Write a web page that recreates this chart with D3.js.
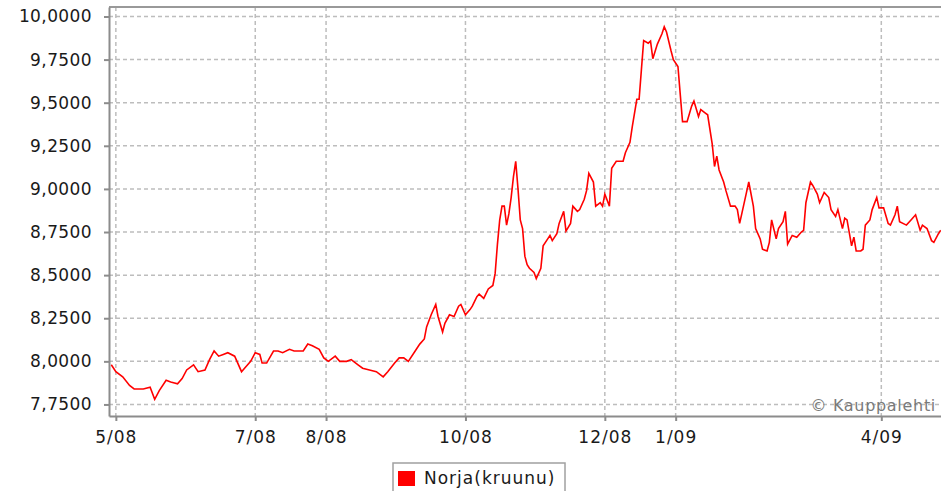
<!DOCTYPE html>
<html>
<head>
<meta charset="utf-8">
<script src="https://cdn.jsdelivr.net/npm/d3@7"></script>
<style>
    body { margin: 0; background: #fff; }
    #chart { width: 941px; height: 491px; }
    text { font-family: "DejaVu Sans", sans-serif; }
</style>
</head>
<body>
<div id="chart"></div>
<script>

// NOK rate
let dates = [
    '2008-04-29','2008-05-01','2008-05-04','2008-05-07','2008-05-09','2008-05-13','2008-05-16','2008-05-18',
    '2008-05-20','2008-05-23','2008-05-25','2008-05-28','2008-05-30','2008-06-01','2008-06-04','2008-06-06',
    '2008-06-09','2008-06-11','2008-06-13','2008-06-15','2008-06-17','2008-06-19','2008-06-22','2008-06-25',
    '2008-06-27','2008-06-29','2008-07-01','2008-07-03','2008-07-04','2008-07-06','2008-07-09','2008-07-11',
    '2008-07-13','2008-07-16','2008-07-18','2008-07-22','2008-07-24','2008-07-26','2008-07-29','2008-07-31',
    '2008-08-02','2008-08-05','2008-08-07','2008-08-10','2008-08-12','2008-08-15','2008-08-17','2008-08-20',
    '2008-08-23','2008-08-26','2008-08-28','2008-08-31','2008-09-02','2008-09-04','2008-09-06','2008-09-09',
    '2008-09-11','2008-09-13','2008-09-14','2008-09-16','2008-09-18','2008-09-19','2008-09-21','2008-09-22',
    '2008-09-24','2008-09-26','2008-09-28','2008-09-29','2008-10-01','2008-10-03','2008-10-04','2008-10-06',
    '2008-10-07','2008-10-09','2008-10-11','2008-10-13','2008-10-14','2008-10-15','2008-10-16','2008-10-17',
    '2008-10-18','2008-10-19','2008-10-20','2008-10-21','2008-10-22','2008-10-23','2008-10-24','2008-10-25',
    '2008-10-26','2008-10-27','2008-10-28','2008-10-29','2008-10-31','2008-11-01','2008-11-03','2008-11-04',
    '2008-11-06','2008-11-07','2008-11-08','2008-11-10','2008-11-11','2008-11-13','2008-11-14','2008-11-16',
    '2008-11-17','2008-11-19','2008-11-20','2008-11-22','2008-11-23','2008-11-24','2008-11-26','2008-11-27',
    '2008-11-29','2008-11-30','2008-12-01','2008-12-03','2008-12-04','2008-12-06','2008-12-08','2008-12-09',
    '2008-12-10','2008-12-12','2008-12-13','2008-12-15','2008-12-16','2008-12-17','2008-12-18','2008-12-20',
    '2008-12-21','2008-12-22','2008-12-24','2008-12-26','2008-12-27','2008-12-28','2008-12-30','2008-12-31',
    '2009-01-02','2009-01-03','2009-01-04','2009-01-06','2009-01-08','2009-01-09','2009-01-11','2009-01-12',
    '2009-01-14','2009-01-15','2009-01-17','2009-01-18','2009-01-19','2009-01-20','2009-01-22','2009-01-23',
    '2009-01-25','2009-01-27','2009-01-28','2009-01-29','2009-01-30','2009-02-01','2009-02-02','2009-02-04',
    '2009-02-05','2009-02-07','2009-02-08','2009-02-10','2009-02-11','2009-02-12','2009-02-14','2009-02-15',
    '2009-02-17','2009-02-18','2009-02-19','2009-02-21','2009-02-23','2009-02-25','2009-02-26','2009-02-27',
    '2009-03-01','2009-03-02','2009-03-04','2009-03-05','2009-03-07','2009-03-09','2009-03-10','2009-03-12',
    '2009-03-13','2009-03-15','2009-03-16','2009-03-17','2009-03-19','2009-03-20','2009-03-21','2009-03-23',
    '2009-03-24','2009-03-25','2009-03-27','2009-03-28','2009-03-30','2009-03-31','2009-04-02','2009-04-04',
    '2009-04-05','2009-04-07','2009-04-08','2009-04-09','2009-04-12','2009-04-14','2009-04-16','2009-04-18',
    '2009-04-19','2009-04-21','2009-04-23','2009-04-24','2009-04-26','2009-04-27'
];

let rates = [
    7.98, 7.94, 7.91, 7.86, 7.84, 7.84, 7.85, 7.78,
    7.83, 7.89, 7.88, 7.87, 7.90, 7.95, 7.98, 7.94,
    7.95, 8.01, 8.06, 8.03, 8.04, 8.05, 8.03, 7.94,
    7.97, 8.00, 8.05, 8.04, 7.99, 7.99, 8.06, 8.06,
    8.05, 8.07, 8.06, 8.06, 8.10, 8.09, 8.07, 8.02,
    8.00, 8.03, 8.00, 8.00, 8.01, 7.98, 7.96, 7.95,
    7.94, 7.91, 7.94, 7.99, 8.02, 8.02, 8.00, 8.06,
    8.10, 8.13, 8.20, 8.27, 8.33, 8.26, 8.17, 8.22,
    8.27, 8.26, 8.32, 8.33, 8.27, 8.30, 8.32, 8.375,
    8.39, 8.365, 8.42, 8.44, 8.51, 8.68, 8.82, 8.90,
    8.90, 8.79, 8.855, 8.95, 9.07, 9.16, 9.00, 8.82,
    8.77, 8.61, 8.56, 8.54, 8.515, 8.48, 8.54, 8.67,
    8.71, 8.73, 8.70, 8.74, 8.80, 8.87, 8.755, 8.80,
    8.90, 8.87, 8.88, 8.94, 8.99, 9.09, 9.04, 8.90,
    8.92, 8.90, 8.97, 8.90, 9.12, 9.16, 9.16, 9.16,
    9.21, 9.27, 9.36, 9.52, 9.52, 9.69, 9.86, 9.845,
    9.857, 9.755, 9.84, 9.90, 9.94, 9.91, 9.80, 9.75,
    9.71, 9.55, 9.39, 9.39, 9.48, 9.51, 9.42, 9.46,
    9.44, 9.43, 9.26, 9.13, 9.19, 9.11, 9.04, 8.99,
    8.90, 8.90, 8.88, 8.80, 8.86, 8.98, 9.04, 8.90,
    8.77, 8.71, 8.65, 8.64, 8.69, 8.82, 8.71, 8.77,
    8.81, 8.87, 8.68, 8.73, 8.72, 8.75, 8.76, 8.92,
    9.04, 9.02, 8.97, 8.92, 8.98, 8.95, 8.88, 8.84,
    8.88, 8.77, 8.83, 8.82, 8.67, 8.72, 8.64, 8.64,
    8.65, 8.79, 8.82, 8.88, 8.95, 8.89, 8.89, 8.80,
    8.79, 8.85, 8.90, 8.81, 8.79, 8.82, 8.85, 8.76,
    8.79, 8.77, 8.70, 8.69, 8.74, 8.76
];

let xTickDates = ['2008-05-01', '2008-07-01', '2008-08-01', '2008-10-01', '2008-12-01', '2009-01-01', '2009-04-01'];
let xTickLabels = ['5/08', '7/08', '8/08', '10/08', '12/08', '1/09', '4/09'];
let yTicks = [7.75, 8.0, 8.25, 8.5, 8.75, 9.0, 9.25, 9.5, 9.75, 10.0];
let seriesName = 'Norja(kruunu)';


class RateChart {

    constructor(parentElement) {
        this.parentElement = parentElement;
        this.parseDate = d3.timeParse('%Y-%m-%d');
        this.initVis();
    }

    initVis() {
        let vis = this;

        vis.width = 941;
        vis.height = 491;
        vis.plot = {left: 109, right: 943, top: 7, bottom: 416};

        vis.svg = d3.select('#' + vis.parentElement).append('svg')
            .attr('width', vis.width)
            .attr('height', vis.height);

        vis.x = d3.scaleTime()
            .domain([vis.parseDate('2008-04-28'), vis.parseDate('2009-04-28')])
            .range([vis.plot.left, vis.plot.right]);

        vis.y = d3.scaleLinear()
            .domain([7.683, 10.055])
            .range([vis.plot.bottom, vis.plot.top]);

        vis.wrangleData();
    }

    wrangleData() {
        let vis = this;
        vis.data = dates.map((d, i) => ({date: vis.parseDate(d), value: rates[i]}));
        vis.xTicks = xTickDates.map(d => vis.parseDate(d));
        vis.updateVis();
    }

    updateVis() {
        let vis = this;

        // grid
        vis.svg.append('g').attr('class', 'grid')
            .selectAll('line.h').data(yTicks).enter().append('line')
            .attr('x1', vis.plot.left).attr('x2', vis.width)
            .attr('y1', d => vis.y(d)).attr('y2', d => vis.y(d))
            .attr('stroke', '#bdbdbd').attr('stroke-width', 1.5)
            .attr('stroke-dasharray', '4,3');

        vis.svg.append('g').attr('class', 'grid')
            .selectAll('line.v').data(vis.xTicks).enter().append('line')
            .attr('x1', d => vis.x(d)).attr('x2', d => vis.x(d))
            .attr('y1', vis.plot.top).attr('y2', vis.plot.bottom)
            .attr('stroke', '#bdbdbd').attr('stroke-width', 1.5)
            .attr('stroke-dasharray', '4,3');

        // copyright
        vis.svg.append('text')
            .attr('x', 936).attr('y', 411)
            .attr('text-anchor', 'end')
            .attr('fill', '#7a7a7a')
            .style('font-size', '16px')
            .style('letter-spacing', '0.7px')
            .text('\u00a9 Kauppalehti');

        // line
        vis.svg.append('clipPath').attr('id', 'plotClip')
            .append('rect')
            .attr('x', vis.plot.left).attr('y', vis.plot.top)
            .attr('width', vis.width - vis.plot.left)
            .attr('height', vis.plot.bottom - vis.plot.top);

        vis.svg.append('path')
            .datum(vis.data)
            .attr('clip-path', 'url(#plotClip)')
            .attr('fill', 'none')
            .attr('stroke', '#ff0000')
            .attr('stroke-width', 1.6)
            .attr('stroke-linejoin', 'miter')
            .attr('d', d3.line().x(d => vis.x(d.date)).y(d => vis.y(d.value)));

        // top border
        vis.svg.append('line')
            .attr('x1', vis.plot.left).attr('x2', vis.width)
            .attr('y1', vis.plot.top).attr('y2', vis.plot.top)
            .attr('stroke', '#999').attr('stroke-width', 2);

        // axes
        let fmt = d3.format('.4f');

        let yAxis = d3.axisLeft(vis.y)
            .tickValues(yTicks)
            .tickSizeInner(5)
            .tickSizeOuter(0)
            .tickPadding(12)
            .tickFormat(d => fmt(d).replace('.', ','));

        let xAxis = d3.axisBottom(vis.x)
            .tickValues(vis.xTicks)
            .tickSizeInner(5)
            .tickSizeOuter(0)
            .tickPadding(10)
            .tickFormat((d, i) => xTickLabels[i]);

        vis.svg.append('g')
            .attr('class', 'axis axis--y')
            .attr('transform', `translate(${vis.plot.left}, 0)`)
            .call(yAxis);

        vis.svg.append('g')
            .attr('class', 'axis axis--x')
            .attr('transform', `translate(0, ${vis.plot.bottom})`)
            .call(xAxis);

        vis.svg.selectAll('.axis path, .axis line')
            .attr('stroke', '#8c8c8c')
            .attr('stroke-width', 2);

        vis.svg.selectAll('.axis text')
            .attr('fill', '#1a1a1a')
            .style('font-size', '17px')
            .style('letter-spacing', '1px')
            .style('font-family', '"DejaVu Sans", sans-serif');

        vis.svg.selectAll('.axis--y text')
            .style('letter-spacing', '0.4px');

        // legend
        vis.legend = vis.svg.append('g').attr('class', 'legend');

        vis.legend.append('rect')
            .attr('x', 393).attr('y', 463)
            .attr('width', 172).attr('height', 40)
            .attr('fill', '#fff')
            .attr('stroke', '#a0a0a0')
            .attr('stroke-width', 1.5);

        vis.legend.append('rect')
            .attr('x', 398).attr('y', 471)
            .attr('width', 17).attr('height', 15)
            .attr('fill', '#ff0000');

        vis.legend.append('text')
            .attr('x', 424).attr('y', 484)
            .attr('fill', '#1a1a1a')
            .style('font-size', '17px')
            .style('letter-spacing', '1px')
            .text(seriesName);
    }
}

new RateChart('chart');

</script>
</body>
</html>
